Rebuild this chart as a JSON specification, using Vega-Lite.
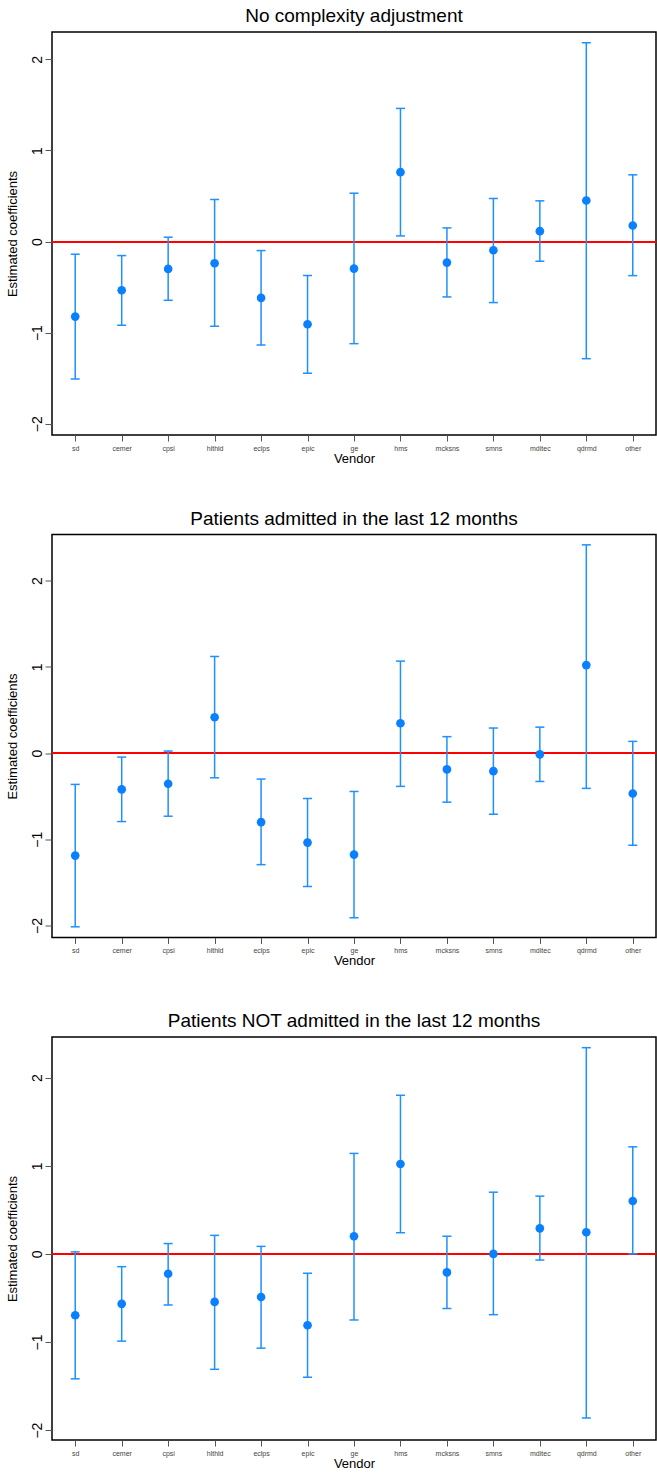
{
  "$schema": "https://vega.github.io/schema/vega-lite/v6.json",
  "padding": {"left": 5, "top": 6, "right": 0, "bottom": 0},
  "spacing": 99.5,
  "bounds": "flush",
  "config": {
    "font": "Liberation Sans",
    "view": {"stroke": "#000000", "strokeWidth": 1.5},
    "axis": {"grid": false, "domain": false, "titleFontWeight": "normal", "labelColor": "#000000", "titleColor": "#000000"},
    "title": {"fontSize": 19, "fontWeight": "normal", "color": "#000000", "anchor": "middle", "baseline": "alphabetic", "offset": 6}
  },
  "data": {"values": [
    {"p": 1, "v": "sd", "est": -0.824, "lo": -1.509, "hi": -0.139},
    {"p": 1, "v": "cemer", "est": -0.535, "lo": -0.919, "hi": -0.154},
    {"p": 1, "v": "cpsi", "est": -0.30, "lo": -0.645, "hi": 0.048},
    {"p": 1, "v": "hlthld", "est": -0.238, "lo": -0.930, "hi": 0.462},
    {"p": 1, "v": "eclps", "est": -0.619, "lo": -1.136, "hi": -0.099},
    {"p": 1, "v": "epic", "est": -0.908, "lo": -1.447, "hi": -0.374},
    {"p": 1, "v": "ge", "est": -0.297, "lo": -1.121, "hi": 0.531},
    {"p": 1, "v": "hms", "est": 0.762, "lo": 0.062, "hi": 1.462},
    {"p": 1, "v": "mcksns", "est": -0.231, "lo": -0.608, "hi": 0.150},
    {"p": 1, "v": "smns", "est": -0.095, "lo": -0.670, "hi": 0.473},
    {"p": 1, "v": "mditec", "est": 0.114, "lo": -0.216, "hi": 0.447},
    {"p": 1, "v": "qdrmd", "est": 0.451, "lo": -1.286, "hi": 2.183},
    {"p": 1, "v": "other", "est": 0.176, "lo": -0.374, "hi": 0.733},
    {"p": 2, "v": "sd", "est": -1.190, "lo": -2.016, "hi": -0.364},
    {"p": 2, "v": "cemer", "est": -0.422, "lo": -0.795, "hi": -0.047},
    {"p": 2, "v": "cpsi", "est": -0.357, "lo": -0.733, "hi": 0.023},
    {"p": 2, "v": "hlthld", "est": 0.415, "lo": -0.287, "hi": 1.120},
    {"p": 2, "v": "eclps", "est": -0.802, "lo": -1.295, "hi": -0.302},
    {"p": 2, "v": "epic", "est": -1.039, "lo": -1.547, "hi": -0.527},
    {"p": 2, "v": "ge", "est": -1.178, "lo": -1.911, "hi": -0.446},
    {"p": 2, "v": "hms", "est": 0.345, "lo": -0.387, "hi": 1.066},
    {"p": 2, "v": "mcksns", "est": -0.19, "lo": -0.57, "hi": 0.19},
    {"p": 2, "v": "smns", "est": -0.21, "lo": -0.71, "hi": 0.29},
    {"p": 2, "v": "mditec", "est": -0.015, "lo": -0.33, "hi": 0.30},
    {"p": 2, "v": "qdrmd", "est": 1.02, "lo": -0.41, "hi": 2.415},
    {"p": 2, "v": "other", "est": -0.47, "lo": -1.07, "hi": 0.135},
    {"p": 3, "v": "sd", "est": -0.696, "lo": -1.418, "hi": 0.023},
    {"p": 3, "v": "cemer", "est": -0.567, "lo": -0.99, "hi": -0.145},
    {"p": 3, "v": "cpsi", "est": -0.225, "lo": -0.58, "hi": 0.117},
    {"p": 3, "v": "hlthld", "est": -0.545, "lo": -1.31, "hi": 0.21},
    {"p": 3, "v": "eclps", "est": -0.49, "lo": -1.07, "hi": 0.085},
    {"p": 3, "v": "epic", "est": -0.81, "lo": -1.40, "hi": -0.22},
    {"p": 3, "v": "ge", "est": 0.20, "lo": -0.75, "hi": 1.14},
    {"p": 3, "v": "hms", "est": 1.02, "lo": 0.24, "hi": 1.80},
    {"p": 3, "v": "mcksns", "est": -0.21, "lo": -0.62, "hi": 0.20},
    {"p": 3, "v": "smns", "est": 0.0, "lo": -0.69, "hi": 0.70},
    {"p": 3, "v": "mditec", "est": 0.29, "lo": -0.07, "hi": 0.655},
    {"p": 3, "v": "qdrmd", "est": 0.245, "lo": -1.862, "hi": 2.34},
    {"p": 3, "v": "other", "est": 0.60, "lo": 0.0, "hi": 1.215}
  ]},
  "vconcat": [
    {
      "title": {"text": "No complexity adjustment"},
      "width": 604, "height": 403,
      "transform": [{"filter": "datum.p === 1"}],
      "encoding": {
        "x": {"field": "v", "type": "nominal", "scale": {"type": "point", "padding": 0.5, "domain": ["sd","cemer","cpsi","hlthld","eclps","epic","ge","hms","mcksns","smns","mditec","qdrmd","other"]},
          "axis": {"title": "Vendor", "titleFontSize": 13, "titlePadding": 1, "labelFontSize": 7, "labelAngle": 0, "labelColor": "#444444", "tickSize": 6, "tickColor": "#555555", "labelPadding": 3}},
        "y": {"type": "quantitative", "scale": {"domain": [-2.124, 2.301], "nice": false, "zero": false},
          "axis": {"title": "Estimated coefficients", "titleFontSize": 13, "values": [-2,-1,0,1,2], "format": "d", "labelFontSize": 14, "labelAngle": -90, "labelAlign": "center", "labelBaseline": "alphabetic", "labelPadding": 4, "tickSize": 7, "tickColor": "#555555", "titlePadding": 11}}
      },
      "layer": [
        {"mark": {"type": "rule", "color": "#FF0000", "strokeWidth": 1.2}, "encoding": {"y": {"datum": 0}, "x": null}},
        {"mark": {"type": "rule", "color": "#1E90FF", "strokeWidth": 1.5}, "encoding": {"y": {"field": "lo"}, "y2": {"field": "hi"}}},
        {"mark": {"type": "tick", "color": "#1E90FF", "size": 9, "thickness": 1.5, "opacity": 1}, "encoding": {"y": {"field": "lo"}}},
        {"mark": {"type": "tick", "color": "#1E90FF", "size": 9, "thickness": 1.5, "opacity": 1}, "encoding": {"y": {"field": "hi"}}},
        {"mark": {"type": "point", "filled": true, "color": "#0A80FF", "size": 75, "opacity": 1}, "encoding": {"y": {"field": "est"}}}
      ]
    },
    {
      "title": {"text": "Patients admitted in the last 12 months"},
      "width": 604, "height": 403,
      "transform": [{"filter": "datum.p === 2"}],
      "encoding": {
        "x": {"field": "v", "type": "nominal", "scale": {"type": "point", "padding": 0.5, "domain": ["sd","cemer","cpsi","hlthld","eclps","epic","ge","hms","mcksns","smns","mditec","qdrmd","other"]},
          "axis": {"title": "Vendor", "titleFontSize": 13, "titlePadding": 1, "labelFontSize": 7, "labelAngle": 0, "labelColor": "#444444", "tickSize": 6, "tickColor": "#555555", "labelPadding": 3}},
        "y": {"type": "quantitative", "scale": {"domain": [-2.14, 2.535], "nice": false, "zero": false},
          "axis": {"title": "Estimated coefficients", "titleFontSize": 13, "values": [-2,-1,0,1,2], "format": "d", "labelFontSize": 14, "labelAngle": -90, "labelAlign": "center", "labelBaseline": "alphabetic", "labelPadding": 4, "tickSize": 7, "tickColor": "#555555", "titlePadding": 11}}
      },
      "layer": [
        {"mark": {"type": "rule", "color": "#FF0000", "strokeWidth": 1.2}, "encoding": {"y": {"datum": 0}, "x": null}},
        {"mark": {"type": "rule", "color": "#1E90FF", "strokeWidth": 1.5}, "encoding": {"y": {"field": "lo"}, "y2": {"field": "hi"}}},
        {"mark": {"type": "tick", "color": "#1E90FF", "size": 9, "thickness": 1.5, "opacity": 1}, "encoding": {"y": {"field": "lo"}}},
        {"mark": {"type": "tick", "color": "#1E90FF", "size": 9, "thickness": 1.5, "opacity": 1}, "encoding": {"y": {"field": "hi"}}},
        {"mark": {"type": "point", "filled": true, "color": "#0A80FF", "size": 75, "opacity": 1}, "encoding": {"y": {"field": "est"}}}
      ]
    },
    {
      "title": {"text": "Patients NOT admitted in the last 12 months"},
      "width": 604, "height": 403,
      "transform": [{"filter": "datum.p === 3"}],
      "encoding": {
        "x": {"field": "v", "type": "nominal", "scale": {"type": "point", "padding": 0.5, "domain": ["sd","cemer","cpsi","hlthld","eclps","epic","ge","hms","mcksns","smns","mditec","qdrmd","other"]},
          "axis": {"title": "Vendor", "titleFontSize": 13, "titlePadding": 1, "labelFontSize": 7, "labelAngle": 0, "labelColor": "#444444", "tickSize": 6, "tickColor": "#555555", "labelPadding": 3}},
        "y": {"type": "quantitative", "scale": {"domain": [-2.112, 2.461], "nice": false, "zero": false},
          "axis": {"title": "Estimated coefficients", "titleFontSize": 13, "values": [-2,-1,0,1,2], "format": "d", "labelFontSize": 14, "labelAngle": -90, "labelAlign": "center", "labelBaseline": "alphabetic", "labelPadding": 4, "tickSize": 7, "tickColor": "#555555", "titlePadding": 11}}
      },
      "layer": [
        {"mark": {"type": "rule", "color": "#FF0000", "strokeWidth": 1.2}, "encoding": {"y": {"datum": 0}, "x": null}},
        {"mark": {"type": "rule", "color": "#1E90FF", "strokeWidth": 1.5}, "encoding": {"y": {"field": "lo"}, "y2": {"field": "hi"}}},
        {"mark": {"type": "tick", "color": "#1E90FF", "size": 9, "thickness": 1.5, "opacity": 1}, "encoding": {"y": {"field": "lo"}}},
        {"mark": {"type": "tick", "color": "#1E90FF", "size": 9, "thickness": 1.5, "opacity": 1}, "encoding": {"y": {"field": "hi"}}},
        {"mark": {"type": "point", "filled": true, "color": "#0A80FF", "size": 75, "opacity": 1}, "encoding": {"y": {"field": "est"}}}
      ]
    }
  ]
}
